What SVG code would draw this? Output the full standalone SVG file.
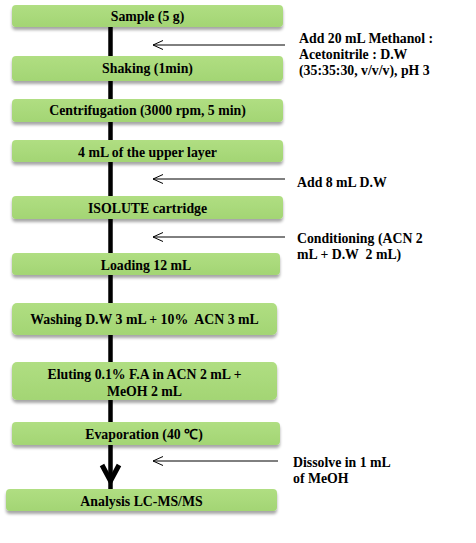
<svg xmlns="http://www.w3.org/2000/svg" width="476" height="543" viewBox="0 0 476 543">
<defs>
<filter id="sh" x="-5%" y="-30%" width="110%" height="180%">
<feGaussianBlur in="SourceAlpha" stdDeviation="1.5"/>
<feOffset dx="0" dy="3"/>
<feComponentTransfer><feFuncA type="linear" slope="0.35"/></feComponentTransfer>
<feMerge><feMergeNode/><feMergeNode in="SourceGraphic"/></feMerge>
</filter>
<linearGradient id="g" x1="0" y1="0" x2="0" y2="1">
<stop offset="0" stop-color="#b0de82"/>
<stop offset="1" stop-color="#a3d574"/>
</linearGradient>
<marker id="open" markerWidth="12" markerHeight="10" refX="11" refY="5" orient="auto" markerUnits="userSpaceOnUse">
<path d="M1,0.5 L11,5 L1,9.5" fill="none" stroke="#000" stroke-width="1"/>
</marker>
</defs>
<style>
.box{fill:url(#g);filter:url(#sh)}
.t{font-family:"Liberation Serif","Times New Roman",serif;font-weight:bold;font-size:13.8px;fill:#000;white-space:pre}
.c{text-anchor:middle}
.side{stroke:#000;stroke-width:1;fill:none}
</style>
<rect width="476" height="543" fill="#fff"/>
<g id="connectors">
<line x1="110.5" y1="27" x2="110.5" y2="489" stroke="#000" stroke-width="4.5"/>
<path d="M102,465 L110.5,481 L119,465" fill="none" stroke="#000" stroke-width="5" stroke-linejoin="miter"/>
<line class="side" x1="285" y1="45" x2="153" y2="45" marker-end="url(#open)"/>
<line class="side" x1="285" y1="179" x2="153" y2="179" marker-end="url(#open)"/>
<line class="side" x1="285" y1="237" x2="153" y2="237" marker-end="url(#open)"/>
<line class="side" x1="278" y1="461" x2="153" y2="461" marker-end="url(#open)"/>
</g>
<g id="n1"><rect class="box" x="12" y="5" width="271" height="22" rx="4"/><text class="t c" x="147.5" y="21">Sample (5 g)</text></g>
<g id="n2"><rect class="box" x="12" y="56" width="271" height="25" rx="4"/><text class="t c" x="147.5" y="73">Shaking (1min)</text></g>
<g id="n3"><rect class="box" x="12" y="99" width="271" height="23" rx="4"/><text class="t c" x="147.5" y="115">Centrifugation (3000 rpm, 5 min)</text></g>
<g id="n4"><rect class="box" x="12" y="140" width="271" height="22" rx="4"/><text class="t c" x="147.5" y="157">4 mL of the upper layer</text></g>
<g id="n5"><rect class="box" x="12" y="196" width="271" height="23" rx="4"/><text class="t c" x="147.5" y="213">ISOLUTE cartridge</text></g>
<g id="n6"><rect class="box" x="12" y="253" width="268" height="22" rx="4"/><text class="t c" x="146" y="270">Loading 12 mL</text></g>
<g id="n7"><rect class="box" x="12" y="303" width="265" height="32" rx="5"/><text class="t c" x="144.5" y="324" xml:space="preserve">Washing D.W 3 mL + 10%  ACN 3 mL</text></g>
<g id="n8"><rect class="box" x="12" y="362" width="265" height="38" rx="5"/><text class="t c" x="144.5" y="379">Eluting 0.1% F.A in ACN 2 mL +</text><text class="t c" x="144.5" y="396">MeOH 2 mL</text></g>
<g id="n9"><rect class="box" x="12" y="422" width="268" height="23" rx="4"/><text class="t c" x="144" y="439">Evaporation (40 ℃)</text></g>
<g id="n10"><rect class="box" x="6" y="489" width="271" height="22" rx="4"/><text class="t c" x="141.5" y="506">Analysis LC-MS/MS</text></g>
<g id="l1"><text class="t" x="299" y="43">Add 20 mL Methanol :</text><text class="t" x="299" y="59">Acetonitrile : D.W</text><text class="t" x="299" y="75">(35:35:30, v/v/v), pH 3</text></g>
<g id="l2"><text class="t" x="297" y="187">Add 8 mL D.W</text></g>
<g id="l3"><text class="t" x="297" y="243">Conditioning (ACN 2</text><text class="t" x="297" y="259" xml:space="preserve">mL + D.W  2 mL)</text></g>
<g id="l4"><text class="t" x="293" y="467">Dissolve in 1 mL</text><text class="t" x="293" y="483">of MeOH</text></g>
</svg>
